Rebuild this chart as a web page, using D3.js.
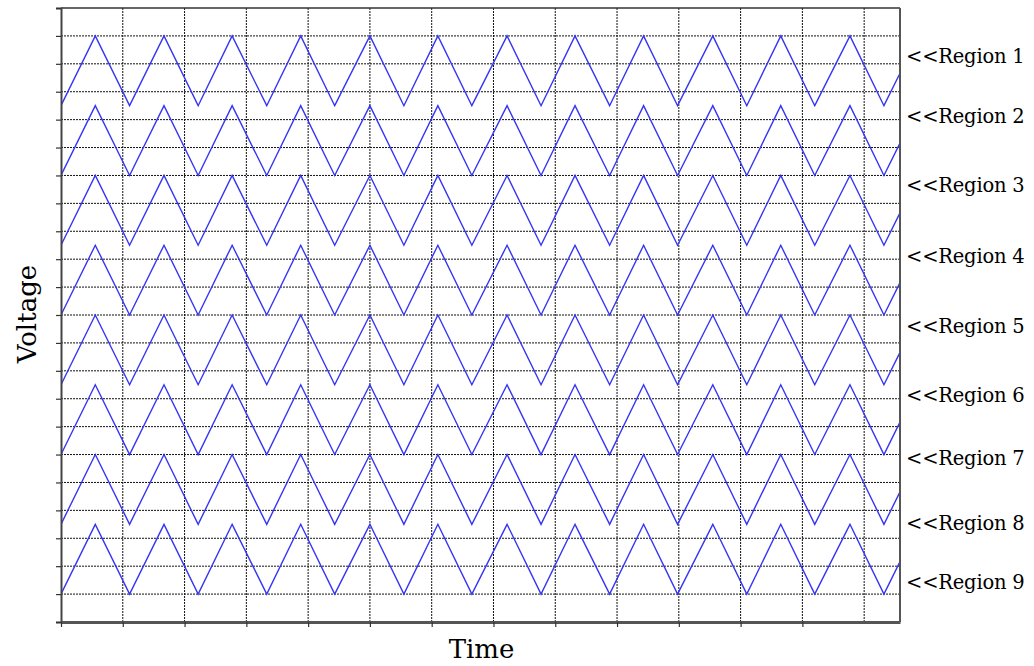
<!DOCTYPE html>
<html>
<head>
<meta charset="utf-8">
<script src="https://cdn.jsdelivr.net/npm/d3@7"></script>
<style>
  body { margin: 0; background: #fff; }
  text { font-family: "DejaVu Serif", serif; fill: #000; }
</style>
</head>
<body>
<div id="chart"></div>
<script>
// 1: DATA
// corner times of the triangle wave, trough first, in grid units
const vertexTimes = [0, 0.555, 1.11, 1.667, 2.22, 2.77, 3.33, 3.88, 4.43, 5.0, 5.55, 6.1,
    6.65, 7.22, 7.77, 8.32, 8.88, 9.43, 9.98, 10.55, 11.1, 11.65, 12.2, 12.77, 13.32, 13.88];
// trough level of each drawn wave, top to bottom
const waveLows = [18.5, 16, 13.5, 11, 8.5, 6, 3.5, 1];
const waveSwing = 2.5;
const regionNames = ["Region 1", "Region 2", "Region 3", "Region 4", "Region 5",
    "Region 6", "Region 7", "Region 8", "Region 9"];
const regionLabelY = [20.03, 17.87, 15.39, 12.86, 10.34, 7.89, 5.63, 3.3, 1.17];
const yTicks = d3.range(0, 23);
const xGridTicks = d3.range(1, 14);
const xAxisTicks = d3.range(0, 13);

// 2: SIZE
const margin = { top: 8, right: 134, bottom: 44, left: 61 };
const width = 1034 - margin.left - margin.right;
const height = 666 - margin.top - margin.bottom;

const svg = d3.select("#chart")
    .append("svg")
    .attr("width", 1034)
    .attr("height", 666);

const g = svg.append("g")
    .attr("transform", `translate(${margin.left},${margin.top})`);

// 3: SCALES
const x = d3.scaleLinear().domain([0, 13.58]).range([0, width]);
const y = d3.scaleLinear().domain([0, 22]).range([height, 0]);

// clip for the waves
svg.append("defs").append("clipPath")
    .attr("id", "plotClip")
    .append("rect")
    .attr("width", width)
    .attr("height", height);

// 4: GRID
g.append("g")
    .selectAll("line")
    .data(yTicks.filter(d => d > 0 && d < 22))
    .join("line")
    .attr("x1", 0).attr("x2", width)
    .attr("y1", d => y(d)).attr("y2", d => y(d))
    .attr("stroke", "#111")
    .attr("stroke-width", 1)
    .attr("stroke-dasharray", "2,1");

g.append("g")
    .selectAll("line")
    .data(xGridTicks)
    .join("line")
    .attr("x1", d => x(d)).attr("x2", d => x(d))
    .attr("y1", 0).attr("y2", height)
    .attr("stroke", "#111")
    .attr("stroke-width", 1)
    .attr("stroke-dasharray", "2,1");

// 5: WAVES
const line = d3.line()
    .x(d => x(d.t))
    .y(d => y(d.v));

g.append("g")
    .attr("clip-path", "url(#plotClip)")
    .selectAll("path")
    .data(waveLows)
    .join("path")
    .attr("d", low => line(vertexTimes.map((t, i) => ({ t, v: low + (i % 2 ? waveSwing : 0) }))))
    .attr("fill", "none")
    .attr("stroke", "#3535f5")
    .attr("stroke-width", 1.4);

// 6: AXES + BORDER
g.append("line")
    .attr("x1", 0).attr("x2", width)
    .attr("y1", 0).attr("y2", 0)
    .attr("stroke", "#333").attr("stroke-width", 1.5);
g.append("line")
    .attr("x1", width).attr("x2", width)
    .attr("y1", 0).attr("y2", height)
    .attr("stroke", "#555").attr("stroke-width", 2);

const yAxis = g.append("g")
    .call(d3.axisLeft(y).tickValues(yTicks).tickSize(5).tickFormat(""));
yAxis.select(".domain").attr("stroke", "#444").attr("stroke-width", 2);
yAxis.selectAll(".tick line").attr("stroke", "#333").attr("stroke-width", 1.2);

const xAxis = g.append("g")
    .attr("transform", `translate(0,${height})`)
    .call(d3.axisBottom(x).tickValues(xAxisTicks).tickSize(5).tickSizeOuter(0).tickFormat(""));
xAxis.select(".domain").attr("stroke", "#555").attr("stroke-width", 3);
xAxis.selectAll(".tick line").attr("stroke", "#333").attr("stroke-width", 1.2);

// 7: LABELS
g.append("g")
    .selectAll("text")
    .data(regionNames)
    .join("text")
    .attr("x", width + 6)
    .attr("y", (d, i) => y(regionLabelY[i]))
    .attr("font-size", "19.5px")
    .attr("letter-spacing", "-0.2px")
    .text(d => "<<" + d);

svg.append("text")
    .attr("x", margin.left + width / 2 + 1)
    .attr("y", 658)
    .attr("text-anchor", "middle")
    .attr("font-size", "26px")
    .text("Time");

svg.append("text")
    .attr("transform", `translate(36,${margin.top + height / 2 - 1}) rotate(-90)`)
    .attr("text-anchor", "middle")
    .attr("font-size", "26px")
    .text("Voltage");
</script>
</body>
</html>
